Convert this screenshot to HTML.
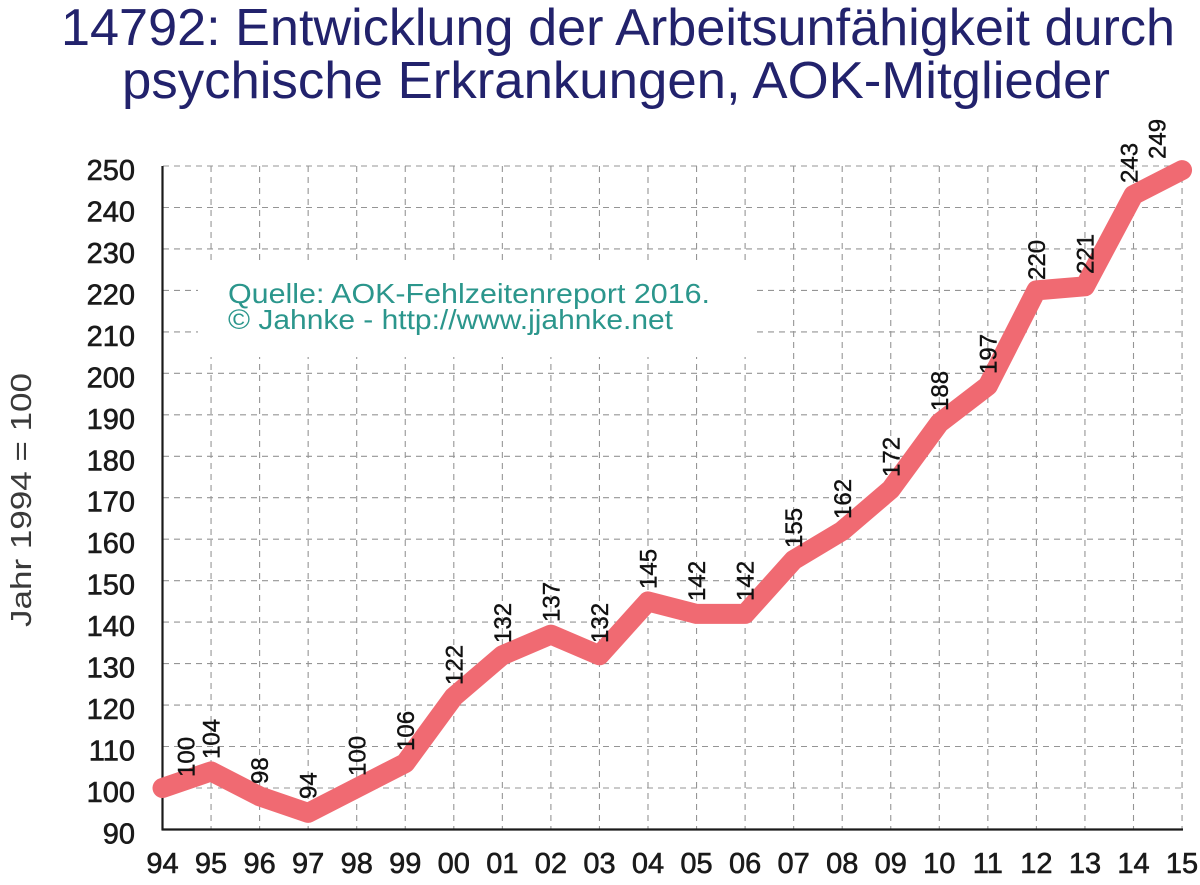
<!DOCTYPE html>
<html>
<head>
<meta charset="utf-8">
<style>
  html, body { margin: 0; padding: 0; background: #ffffff; }
  svg { display: block; }
  text { font-family: "Liberation Sans", Arial, sans-serif; }
</style>
</head>
<body>
<svg width="1200" height="885" viewBox="0 0 1200 885" xmlns="http://www.w3.org/2000/svg">
  <rect x="0" y="0" width="1200" height="885" fill="#ffffff"/>

  <!-- Title -->
  <text x="61" y="45" font-size="52" fill="#22226c" textLength="1114" lengthAdjust="spacingAndGlyphs">14792: Entwicklung der Arbeitsunfähigkeit durch</text>
  <text x="122" y="98" font-size="52" fill="#22226c" textLength="988" lengthAdjust="spacingAndGlyphs">psychische Erkrankungen, AOK-Mitglieder</text>

  <!-- Horizontal grid -->
  <g stroke="#959595" stroke-width="1.1" stroke-dasharray="6,5" fill="none">
    <line x1="163" y1="166" x2="1182" y2="166"/>
    <line x1="163" y1="207.5" x2="1182" y2="207.5"/>
    <line x1="163" y1="248.9" x2="1182" y2="248.9"/>
    <line x1="163" y1="290.4" x2="1182" y2="290.4"/>
    <line x1="163" y1="331.9" x2="1182" y2="331.9"/>
    <line x1="163" y1="373.3" x2="1182" y2="373.3"/>
    <line x1="163" y1="414.8" x2="1182" y2="414.8"/>
    <line x1="163" y1="456.3" x2="1182" y2="456.3"/>
    <line x1="163" y1="497.7" x2="1182" y2="497.7"/>
    <line x1="163" y1="539.2" x2="1182" y2="539.2"/>
    <line x1="163" y1="580.7" x2="1182" y2="580.7"/>
    <line x1="163" y1="622.1" x2="1182" y2="622.1"/>
    <line x1="163" y1="663.6" x2="1182" y2="663.6"/>
    <line x1="163" y1="705.1" x2="1182" y2="705.1"/>
    <line x1="163" y1="746.5" x2="1182" y2="746.5"/>
    <line x1="163" y1="788.0" x2="1182" y2="788.0"/>
  </g>
  <!-- Vertical grid -->
  <g stroke="#959595" stroke-width="1.1" stroke-dasharray="6,5" fill="none">
    <line x1="211.05" y1="166" x2="211.05" y2="829"/>
    <line x1="259.6" y1="166" x2="259.6" y2="829"/>
    <line x1="308.15" y1="166" x2="308.15" y2="829"/>
    <line x1="356.7" y1="166" x2="356.7" y2="829"/>
    <line x1="405.25" y1="166" x2="405.25" y2="829"/>
    <line x1="453.8" y1="166" x2="453.8" y2="829"/>
    <line x1="502.35" y1="166" x2="502.35" y2="829"/>
    <line x1="550.9" y1="166" x2="550.9" y2="829"/>
    <line x1="599.45" y1="166" x2="599.45" y2="829"/>
    <line x1="648.0" y1="166" x2="648.0" y2="829"/>
    <line x1="696.55" y1="166" x2="696.55" y2="829"/>
    <line x1="745.1" y1="166" x2="745.1" y2="829"/>
    <line x1="793.65" y1="166" x2="793.65" y2="829"/>
    <line x1="842.2" y1="166" x2="842.2" y2="829"/>
    <line x1="890.75" y1="166" x2="890.75" y2="829"/>
    <line x1="939.3" y1="166" x2="939.3" y2="829"/>
    <line x1="987.85" y1="166" x2="987.85" y2="829"/>
    <line x1="1036.4" y1="166" x2="1036.4" y2="829"/>
    <line x1="1084.95" y1="166" x2="1084.95" y2="829"/>
    <line x1="1133.5" y1="166" x2="1133.5" y2="829"/>
    <line x1="1182.05" y1="166" x2="1182.05" y2="829"/>
  </g>

  <!-- Source box -->
  <rect x="198" y="263" width="559" height="94" fill="#ffffff"/>
  <text x="228" y="303" font-size="28" fill="#2b968c" textLength="482" lengthAdjust="spacingAndGlyphs">Quelle: AOK-Fehlzeitenreport 2016.</text>
  <text x="228" y="329" font-size="28" fill="#2b968c" textLength="445" lengthAdjust="spacingAndGlyphs">© Jahnke - http://www.jjahnke.net</text>

  <!-- Axes -->
  <line x1="162.5" y1="166" x2="162.5" y2="830" stroke="#1a1a1a" stroke-width="2.2"/>
  <line x1="161.5" y1="829.5" x2="1183" y2="829.5" stroke="#1a1a1a" stroke-width="2.2"/>

  <!-- Y tick labels -->
  <g font-size="29" fill="#1a1a1a" stroke="#1a1a1a" stroke-width="0.6" text-anchor="end">
    <text x="135" y="180">250</text>
    <text x="135" y="221.5">240</text>
    <text x="135" y="262.9">230</text>
    <text x="135" y="304.4">220</text>
    <text x="135" y="345.9">210</text>
    <text x="135" y="387.3">200</text>
    <text x="135" y="428.8">190</text>
    <text x="135" y="470.3">180</text>
    <text x="135" y="511.7">170</text>
    <text x="135" y="553.2">160</text>
    <text x="135" y="594.7">150</text>
    <text x="135" y="636.1">140</text>
    <text x="135" y="677.6">130</text>
    <text x="135" y="719.1">120</text>
    <text x="135" y="760.5">110</text>
    <text x="135" y="802.0">100</text>
    <text x="135" y="843.5">90</text>
  </g>

  <!-- X tick labels -->
  <g font-size="29" fill="#1a1a1a" stroke="#1a1a1a" stroke-width="0.6" text-anchor="middle">
    <text x="162.5" y="873">94</text>
    <text x="211.05" y="873">95</text>
    <text x="259.6" y="873">96</text>
    <text x="308.15" y="873">97</text>
    <text x="356.7" y="873">98</text>
    <text x="405.25" y="873">99</text>
    <text x="453.8" y="873">00</text>
    <text x="502.35" y="873">01</text>
    <text x="550.9" y="873">02</text>
    <text x="599.45" y="873">03</text>
    <text x="648.0" y="873">04</text>
    <text x="696.55" y="873">05</text>
    <text x="745.1" y="873">06</text>
    <text x="793.65" y="873">07</text>
    <text x="842.2" y="873">08</text>
    <text x="890.75" y="873">09</text>
    <text x="939.3" y="873">10</text>
    <text x="987.85" y="873">11</text>
    <text x="1036.4" y="873">12</text>
    <text x="1084.95" y="873">13</text>
    <text x="1133.5" y="873">14</text>
    <text x="1182.05" y="873">15</text>
  </g>

  <!-- Y axis title -->
  <text transform="translate(31,500) rotate(-90)" font-size="29" fill="#3a3a3a" text-anchor="middle" textLength="254" lengthAdjust="spacingAndGlyphs">Jahr 1994 = 100</text>

  <!-- Series line -->
  <polyline fill="none" stroke="#f06a72" stroke-width="20" stroke-linejoin="round" stroke-linecap="round"
    points="162.5,788.0 211.05,771.4 259.6,796.3 308.15,812.9 356.7,788.0 405.25,763.1 453.8,696.8 502.35,655.3 550.9,634.6 599.45,655.3 648.0,601.4 696.55,613.9 745.1,613.9 793.65,560.0 842.2,530.9 890.75,489.4 939.3,423.1 987.85,385.8 1036.4,290.4 1084.95,286.3 1133.5,195.0 1182.05,170.1"/>

  <!-- Data labels -->
  <g font-size="24" fill="#111111" stroke="#111111" stroke-width="0.4">
    <text transform="translate(194.5,777) rotate(-90)">100</text>
    <text transform="translate(219.6,759) rotate(-90)">104</text>
    <text transform="translate(268.2,784) rotate(-90)">98</text>
    <text transform="translate(316.7,799) rotate(-90)">94</text>
    <text transform="translate(365.3,776) rotate(-90)">100</text>
    <text transform="translate(413.8,751) rotate(-90)">106</text>
    <text transform="translate(462.4,685) rotate(-90)">122</text>
    <text transform="translate(510.9,643) rotate(-90)">132</text>
    <text transform="translate(559.5,622) rotate(-90)">137</text>
    <text transform="translate(608.0,643) rotate(-90)">132</text>
    <text transform="translate(656.6,589) rotate(-90)">145</text>
    <text transform="translate(705.1,601) rotate(-90)">142</text>
    <text transform="translate(753.7,601) rotate(-90)">142</text>
    <text transform="translate(802.2,548) rotate(-90)">155</text>
    <text transform="translate(850.8,519) rotate(-90)">162</text>
    <text transform="translate(899.3,477) rotate(-90)">172</text>
    <text transform="translate(947.9,411) rotate(-90)">188</text>
    <text transform="translate(996.4,374) rotate(-90)">197</text>
    <text transform="translate(1045.0,280) rotate(-90)">220</text>
    <text transform="translate(1093.5,274) rotate(-90)">221</text>
    <text transform="translate(1137.5,183) rotate(-90)">243</text>
    <text transform="translate(1165.5,159) rotate(-90)">249</text>
  </g>
</svg>
</body>
</html>
